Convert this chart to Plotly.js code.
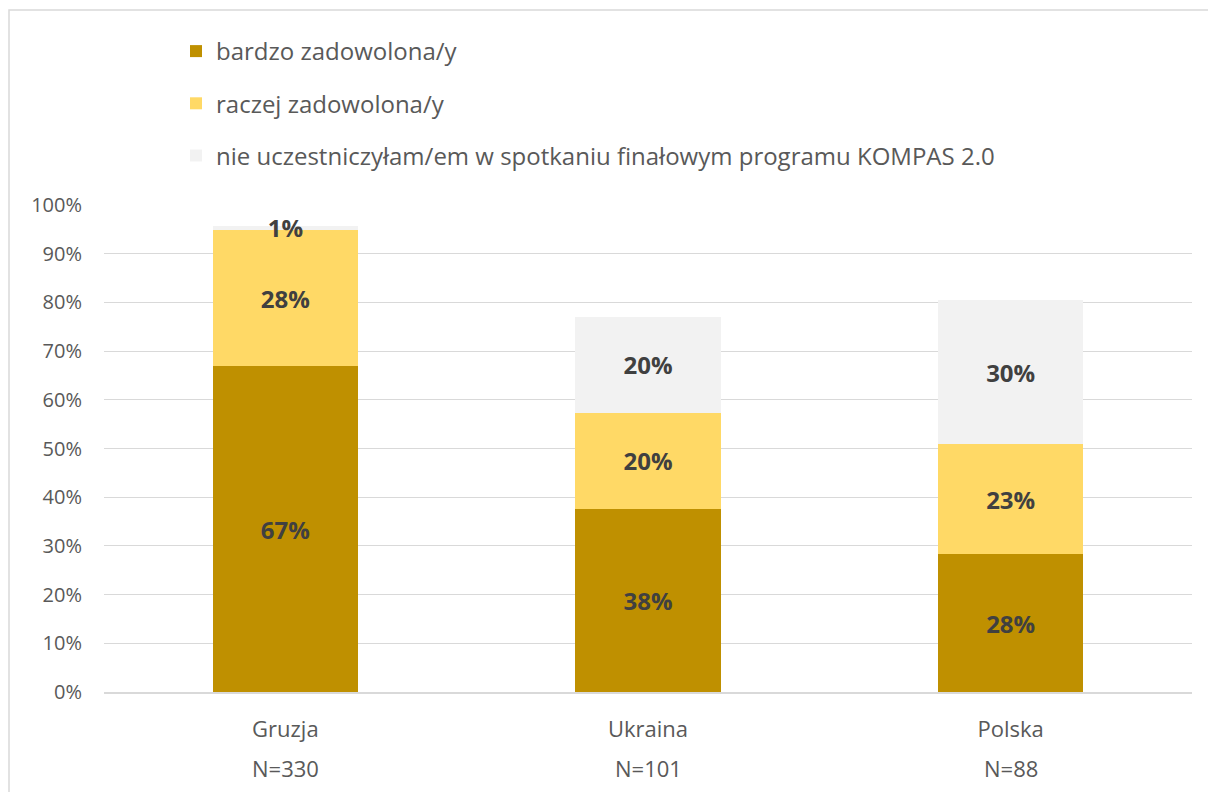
<!DOCTYPE html>
<html>
<head>
<meta charset="utf-8">
<script src="https://cdn.plot.ly/plotly-3.0.1.min.js"></script>
<style>html,body{margin:0;padding:0;background:#fff;}#chart{width:1208px;height:792px;}</style>
</head>
<body>
<div id="chart"></div>
<script>
const categories = ["Gruzja", "Ukraina", "Polska"];
const sampleSizes = ["N=330", "N=101", "N=88"];
const seriesNames = ["bardzo zadowolona/y", "raczej zadowolona/y", "nie uczestniczyłam/em w spotkaniu finałowym programu KOMPAS 2.0"];
const bardzo = [66.9, 37.6, 28.3];
const raczej = [28.0, 19.7, 22.6];
const nieUczestniczyl = [0.8, 19.7, 29.6];
const yTicks = [0, 10, 20, 30, 40, 50, 60, 70, 80, 90, 100];

const colors = ["#BF9000", "#FFD966", "#F2F2F2"];
const values = [bardzo, raczej, nieUczestniczyl];
const fontFam = "'Open Sans', 'Noto Sans', sans-serif";

const L = 104, R = 16, T = 205, B = 100, W = 1208, H = 792;
const pw = W - L - R, ph = H - T - B;
const px2x = p => (p - L) / pw;
const px2y = p => (H - B - p) / ph;

const traces = values.map((v, i) => ({
  type: "bar",
  name: seriesNames[i],
  legendgroup: "g" + i,
  x: categories,
  y: v,
  marker: {color: colors[i], line: {width: 0}},
  texttemplate: "%{y:.0f}%",
  textposition: "inside",
  insidetextanchor: "middle",
  constraintext: "none",
  textangle: 0,
  textfont: {family: fontFam, size: 24, color: "#404040", weight: "bold"},
  hoverinfo: "none"
}));

const annotations = categories.map((c, i) => ({
  x: c, xref: "x", y: px2y(768), yref: "paper", yanchor: "middle",
  text: sampleSizes[i], showarrow: false,
  font: {family: fontFam, size: 22, color: "#595959"}
}));

const layout = {
  width: W, height: H,
  margin: {l: L, r: R, t: T, b: B, autoexpand: false},
  paper_bgcolor: "#ffffff", plot_bgcolor: "#ffffff",
  barmode: "stack",
  bargap: 0.6,
  font: {family: fontFam, color: "#595959"},
  showlegend: true,
  legend: {
    x: px2x(176), y: px2y(29), xanchor: "left", yanchor: "top",
    orientation: "v", traceorder: "grouped", tracegroupgap: 18,
    font: {family: fontFam, size: 24, color: "#595959"},
    bgcolor: "rgba(0,0,0,0)"
  },
  xaxis: {
    type: "category",
    tickfont: {family: fontFam, size: 22, color: "#595959"},
    showline: true, linecolor: "#D9D9D9", linewidth: 2,
    ticks: "", showgrid: false, fixedrange: true,
    ticklabelstandoff: 17
  },
  yaxis: {
    range: [0, 100],
    tickvals: yTicks,
    ticktext: yTicks.map(t => t + "%"),
    tickfont: {family: fontFam, size: 20, color: "#595959"},
    showgrid: true, gridcolor: "#D9D9D9", gridwidth: 1,
    zeroline: false, showline: false, ticks: "",
    ticklabelstandoff: 21, fixedrange: true
  },
  annotations: annotations,
  shapes: [{
    type: "rect", xref: "paper", yref: "paper",
    x0: px2x(9), x1: px2x(1212),
    y0: px2y(796), y1: px2y(10),
    line: {color: "#D9D9D9", width: 1.5}, fillcolor: "rgba(0,0,0,0)", layer: "below"
  }]
};

Plotly.newPlot("chart", traces, layout, {displayModeBar: false, staticPlot: true});
</script>
</body>
</html>
